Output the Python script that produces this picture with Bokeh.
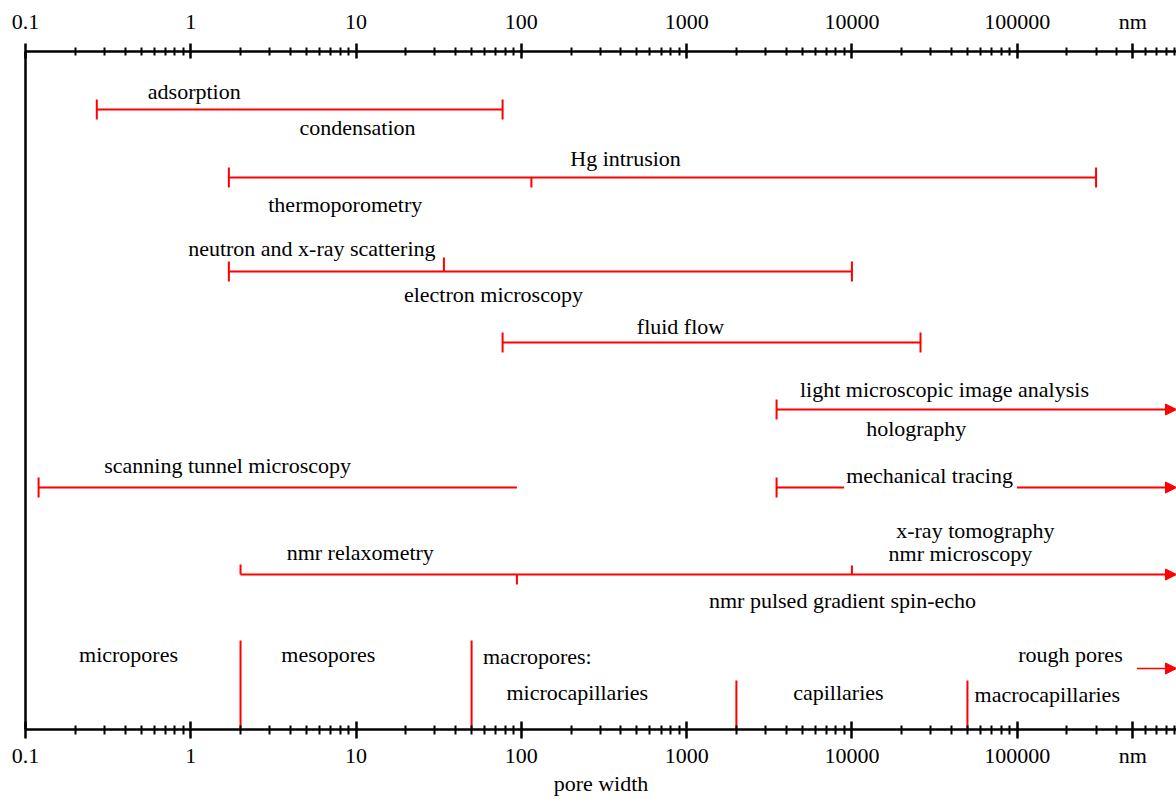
from bokeh.plotting import figure
from bokeh.models import (Range1d, LogAxis, FixedTicker, CustomJSTickFormatter,
                          Arrow, NormalHead, Label, ColumnDataSource)
from bokeh.core.properties import value
from bokeh.embed import file_html
from bokeh.resources import INLINE

# ---------------------------------------------------------------- data
# pore width axis (nm, logarithmic)
X_MIN, X_MAX = 0.1, 9.2e5
major_ticks = [0.1, 1, 10, 100, 1000, 10000, 100000]
unit_tick = 500000          # the unit is written in place of this tick's value
unit_label = "nm"
minor_ticks = [m * 10.0 ** e for e in range(-1, 6) for m in range(2, 10)
               if m * 10.0 ** e != unit_tick]
axis_title = "pore width"

# measuring methods: one horizontal range per row (None = open ended)
range_lo = [0.27, 1.7, 1.7, 77, 3500, 0.12, 3500, 2.0]
range_hi = [77, 3.0e5, 1.0e4, 2.6e4, None, 94, None, None]
start_cap = ["both", "both", "both", "both", "both", "both", "both", "up"]
end_cap = ["both", "both", "both", "both", "arrow", "none", "arrow", "arrow"]

# sub-range boundaries inside a row
split_row = [1, 2, 7, 7]
split_x = [115, 34, 94, 1.0e4]
split_dir = ["down", "up", "down", "up"]

# method names
method_text = ["adsorption", "condensation", "Hg intrusion", "thermoporometry",
               "neutron and x-ray scattering", "electron microscopy", "fluid flow",
               "light microscopic image analysis", "holography",
               "scanning tunnel microscopy", "x-ray tomography", "nmr microscopy",
               "nmr relaxometry", "nmr pulsed gradient spin-echo"]
method_x = [1.05, 10.2, 427, 8.6, 5.4, 67.8, 918, 36300, 24500, 1.67,
            55800, 45300, 10.6, 8770]

# pore classes (IUPAC limits and capillary classes)
pore_bounds = [2, 50, 2000, 50000]
class_text = ["micropores", "mesopores", "macropores:", "microcapillaries",
              "capillaries", "macrocapillaries", "rough pores"]
class_x = [0.42, 6.8, 125, 218, 8280, 152000, 210000]
rough_lo = 5.3e5

# ---------------------------------------------------------------- layout
# vertical layout in pixels from the top of the frame
FRAME_H = 678
row_y = [58, 126, 220, 291, 358, 436, 436, 523]
method_y = [40, 76, 107, 153, 197, 243, 275, 338, 377, 414, 479, 502, 501, 549]
split_len = [10, 14, 10, 9]
cap_half = 10
bound_top = [589, 589, 629, 629]
class_y = [603, 603, 605, 641, 641, 643, 603]
rough_y = 617
mech_text, mech_x, mech_y = "mechanical tracing", 29900, 422

RED = "#ff0000"
FONT_NAME = "Liberation Serif"
FONT = value(FONT_NAME)
FSIZE = "22px"

p = figure(width=1176, height=799, x_axis_type="log",
           x_range=Range1d(X_MIN, X_MAX), y_range=Range1d(FRAME_H, 0),
           output_backend="svg", toolbar_location=None,
           min_border_left=25, min_border_right=0,
           min_border_top=51, min_border_bottom=70)
p.grid.visible = False
p.outline_line_color = None

# ---------------------------------------------------------------- axes
def style_axis(ax, tick_in, tick_out, minor_in, minor_out, standoff):
    ax.ticker = FixedTicker(ticks=major_ticks + [unit_tick],
                            minor_ticks=minor_ticks)
    ax.formatter = CustomJSTickFormatter(
        args=dict(unit_tick=unit_tick, unit=unit_label),
        code="return Math.abs(tick - unit_tick) < 1 ? unit : String(tick);")
    ax.axis_line_width = 2.5
    ax.axis_line_color = "black"
    ax.major_tick_line_width = 2.5
    ax.minor_tick_line_width = 2
    ax.major_tick_in = tick_in
    ax.major_tick_out = tick_out
    ax.minor_tick_in = minor_in
    ax.minor_tick_out = minor_out
    ax.major_label_text_font = FONT_NAME
    ax.major_label_text_font_size = FSIZE
    ax.major_label_text_color = "black"
    ax.major_label_standoff = standoff

bottom = p.xaxis[0]
style_axis(bottom, 8, 9, 4, 5, 4)
bottom.axis_label = axis_title
bottom.axis_label_text_font = FONT_NAME
bottom.axis_label_text_font_size = FSIZE
bottom.axis_label_text_font_style = "normal"
bottom.axis_label_text_color = "black"
bottom.axis_label_standoff = 0

top = LogAxis()
style_axis(top, 7, 8, 4, 4, 10)
p.add_layout(top, "above")

# plain vertical frame line on the left
left = p.yaxis[0]
left.ticker = FixedTicker(ticks=[], minor_ticks=[])
left.axis_line_width = 2.5
left.axis_line_color = "black"
left.major_tick_in = left.major_tick_out = 0
left.minor_tick_in = left.minor_tick_out = 0

# ---------------------------------------------------------------- method ranges
closed = [i for i, hi in enumerate(range_hi) if hi is not None]
p.segment(x0=[range_lo[i] for i in closed], y0=[row_y[i] for i in closed],
          x1=[range_hi[i] for i in closed], y1=[row_y[i] for i in closed],
          line_color=RED, line_width=2)

def cap_span(y, kind, half):
    if kind == "up":
        return y - half, y
    if kind == "down":
        return y, y + half
    return y - half, y + half

cx, cy0, cy1 = [], [], []
for i, lo in enumerate(range_lo):
    a, b = cap_span(row_y[i], start_cap[i], cap_half)
    cx.append(lo); cy0.append(a); cy1.append(b)
    if end_cap[i] == "both":
        a, b = cap_span(row_y[i], "both", cap_half)
        cx.append(range_hi[i]); cy0.append(a); cy1.append(b)
for r, x, d, n in zip(split_row, split_x, split_dir, split_len):
    a, b = cap_span(row_y[r], d, n)
    cx.append(x); cy0.append(a); cy1.append(b)
p.segment(x0=cx, y0=cy0, x1=cx, y1=cy1, line_color=RED, line_width=2)

open_rows = [i for i, e in enumerate(end_cap) if e == "arrow"]
arrow_src = ColumnDataSource(dict(
    x0=[range_lo[i] for i in open_rows] + [rough_lo],
    x1=[X_MAX] * (len(open_rows) + 1),
    y=[row_y[i] for i in open_rows] + [rough_y],
    w=[2] * len(open_rows) + [1.5]))
p.add_layout(Arrow(source=arrow_src, x_start="x0", y_start="y",
                   x_end="x1", y_end="y", line_color=RED, line_width="w",
                   end=NormalHead(size=11, fill_color=RED, line_color=RED,
                                  line_width=1)))

p.text(x=method_x, y=method_y, text=method_text, text_align="center",
       text_baseline="middle", text_font=FONT, text_font_size=FSIZE,
       text_color="black")
# this name interrupts its own range line
p.add_layout(Label(x=mech_x, y=mech_y, text=mech_text, text_align="center",
                   text_baseline="middle", text_font=FONT_NAME,
                   text_font_size=FSIZE, text_color="black",
                   background_fill_color="white", padding=(2, 4, 8, 4)))

# ---------------------------------------------------------------- pore classes
p.segment(x0=pore_bounds, y0=bound_top, x1=pore_bounds, y1=[FRAME_H] * 4,
          line_color=RED, line_width=2)
p.text(x=class_x, y=class_y, text=class_text, text_align="center",
       text_baseline="middle", text_font=FONT, text_font_size=FSIZE,
       text_color="black")

open("out.html", "w").write(file_html(p, INLINE))
